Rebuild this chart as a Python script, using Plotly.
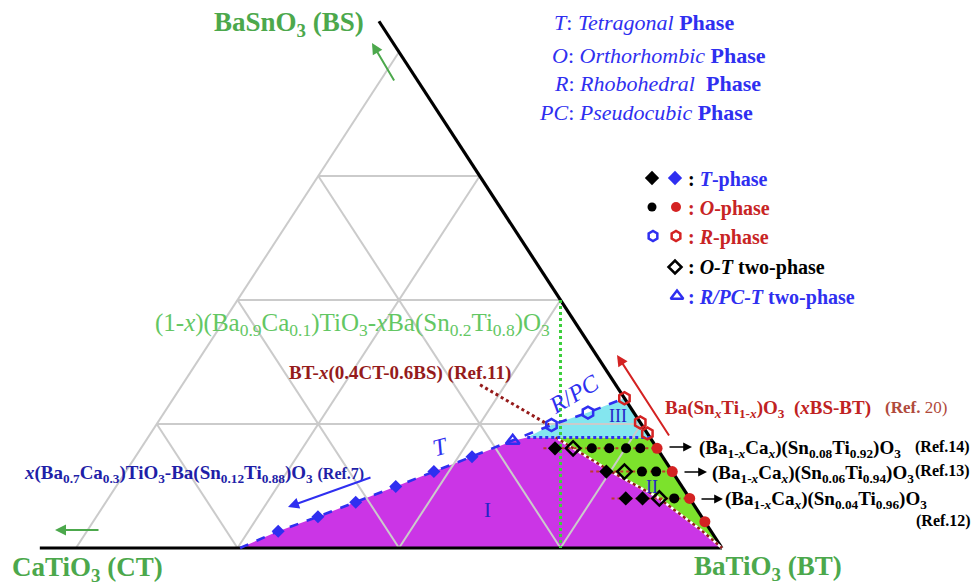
import plotly.graph_objects as go

# ---------------- data (mole fractions) ----------------
# every composition is given as (CaTiO3 fraction "ct", BaSnO3 fraction "bs"); BaTiO3 = 1 - ct - bs
grid_fractions = [0.25, 0.5, 0.75]

# T-phase boundary of x(Ba0.7Ca0.3)TiO3-Ba(Sn0.12Ti0.88)O3 (Ref.7)
T_foot_ct, T_foot_bs = 0.746, 0.0
T_blue_ct = [0.670, 0.594, 0.521, 0.443, 0.369, 0.295]
T_blue_bs = [0.034, 0.063, 0.092, 0.124, 0.154, 0.184]
RPCT_ct = [0.216]
RPCT_bs = [0.216]
R_blue_ct = [0.140, 0.071]
R_blue_bs = [0.248, 0.273]

# Ba(SnxTi1-x)O3 (Ref.20), on the BT-BS edge (ct = 0)
R_red_bs = [0.302, 0.253, 0.231]
O_red_bs = [0.201, 0.154, 0.100, 0.053]

# rows (Ba1-xCax)(SnyTi1-y)O3  (Ref.14, Ref.13, Ref.12)
row_bs = [0.201, 0.154, 0.100]
row_start_ct = [0.176, 0.127, 0.121]
row14_T_ct, row14_OT_ct, row14_O_ct = [0.158], [0.130], [0.101, 0.074, 0.048, 0.026]
row13_T_ct, row13_OT_ct, row13_O_ct = [0.102], [0.074], [0.047, 0.025]
row12_T_ct, row12_OT_ct, row12_O_ct = [0.099, 0.073], [0.047], [0.024]

# O-T phase boundary (region I / II)
OT_ct = [0.146, 0.094, 0.049, 0.015, 0.0]
OT_bs = [0.223, 0.153, 0.103, 0.038, 0.0]
# R/PC - T,O boundary (region III / II)
III_ct = [0.190, 0.0]
III_bs = [0.223, 0.223]
# BT-x(0.4CT-0.6BS) (Ref.11)
ref11_ct = [0.210, 0.144]
ref11_bs = [0.329, 0.248]
# (1-x)(Ba0.9Ca0.1)TiO3-xBa(Sn0.2Ti0.8)O3
bczt_ct = [0.0, 0.25]
bczt_bs = [0.5, 0.0]
# drawn edges (extended beyond the corners as in the figure)
bottom_edge_ct = [1.056, 0.0]
bottom_edge_bs = [0.0, 0.0]
right_edge_ct = [0.0, 0.0]
right_edge_bs = [0.0, 1.062]

# ---------------- page geometry ----------------
W, H = 971, 585
X0_PX, X1_PX = 76, 722        # CT and BT corners (pixels)
BASE_PX, APEX_PX = 548, 52    # base and apex heights (pixels)
SX, SY = X1_PX - X0_PX, BASE_PX - APEX_PX

MAGENTA = "#cb35e6"
LIME = "#7ce22c"
CYAN = "#84e6ef"
GRID = "#cbcbcb"
BLUE = "#2f2ff0"
DBLUE = "#1f1fa8"
RED = "#d42222"
DRED = "#951b1b"
GREEN = "#4ca84c"
LGREEN = "#63c763"
FONT = "Liberation Serif, Times New Roman, serif"


def xy(ct, bs):
    xs, ys = [], []
    for c, b in zip(ct, bs):
        if c is None:
            xs.append(None); ys.append(None)
        else:
            xs.append(1 - c - 0.5 * b); ys.append(b)
    return xs, ys


def P(px, py):
    return px / W, 1 - py / H


fig = go.Figure()


def line(ct, bs, color, width, dash="solid", **kw):
    x, y = xy(ct, bs)
    fig.add_trace(go.Scatter(x=x, y=y, mode="lines", hoverinfo="skip",
                             line=dict(color=color, width=width, dash=dash), **kw))


def poly(ct, bs, color):
    x, y = xy(ct, bs)
    fig.add_trace(go.Scatter(x=x, y=y, mode="lines", fill="toself", fillcolor=color,
                             line=dict(width=0), hoverinfo="skip"))


def marks(ct, bs, symbol, color, size, lw=0, lc=None):
    x, y = xy(ct, bs)
    fig.add_trace(go.Scatter(x=x, y=y, mode="markers", hoverinfo="skip",
                             marker=dict(symbol=symbol, color=color, size=size,
                                         line=dict(width=lw, color=lc or color))))


# ---- region fills ----
poly([T_foot_ct] + T_blue_ct + RPCT_ct + [III_ct[0]] + OT_ct,
     [T_foot_bs] + T_blue_bs + RPCT_bs + [III_bs[0]] + OT_bs, MAGENTA)
poly(OT_ct + [III_ct[1]], OT_bs + [III_bs[1]], LIME)
poly([III_ct[0]] + R_blue_ct + [0.0, III_ct[1]], [III_bs[0]] + R_blue_bs + [R_red_bs[0], III_bs[1]], CYAN)

# ---- grid ----
gct, gbs = [1.0, 0.0, None], [0.0, 1.0, None]
for k in grid_fractions:
    gct += [1 - k, 0.0, None, k, k, None, 1 - k, 0.0, None]
    gbs += [k, k, None, 0.0, 1 - k, None, 0.0, 1 - k, None]
line(gct, gbs, GRID, 2)

# ---- edges ----
line(bottom_edge_ct, bottom_edge_bs, "black", 3.2)
line(right_edge_ct, right_edge_bs, "black", 3.2)

# ---- boundaries ----
line(bczt_ct, bczt_bs, "#3ccf3c", 3, "dot")
line(ref11_ct, ref11_bs, DRED, 3, "dot")
line(OT_ct, OT_bs, "white", 2.5)
line(OT_ct, OT_bs, DRED, 2.5, "dot")
line([T_foot_ct] + T_blue_ct + RPCT_ct + R_blue_ct + [0.0],
     [T_foot_bs] + T_blue_bs + RPCT_bs + R_blue_bs + [R_red_bs[0]], BLUE, 2.6, "dash")
line(III_ct, III_bs, BLUE, 3, "dot")

# ---- composition rows ----
rct, rbs = [], []
for s, b in zip(row_start_ct, row_bs):
    rct += [s, 0.0, None]
    rbs += [b, b, None]
line(rct, rbs, "#c0392b", 2, "dot")

bT = row14_T_ct + row13_T_ct + row12_T_ct
bT_bs = [row_bs[0]] * len(row14_T_ct) + [row_bs[1]] * len(row13_T_ct) + [row_bs[2]] * len(row12_T_ct)
bO = row14_O_ct + row13_O_ct + row12_O_ct
bO_bs = [row_bs[0]] * len(row14_O_ct) + [row_bs[1]] * len(row13_O_ct) + [row_bs[2]] * len(row12_O_ct)
bOT = row14_OT_ct + row13_OT_ct + row12_OT_ct
bOT_bs = [row_bs[0]] * len(row14_OT_ct) + [row_bs[1]] * len(row13_OT_ct) + [row_bs[2]] * len(row12_OT_ct)

marks(T_blue_ct, T_blue_bs, "diamond", BLUE, 10)
marks(bT, bT_bs, "diamond", "black", 11)
marks(bO, bO_bs, "circle", "black", 10)
marks(bOT, bOT_bs, "diamond-open", "black", 11, 2.5)
marks([0.0] * len(O_red_bs), O_red_bs, "circle", RED, 11)
marks([0.0] * len(R_red_bs), R_red_bs, "hexagon-open", RED, 12, 2.5)
marks(R_blue_ct, R_blue_bs, "hexagon-open", BLUE, 12, 2.5)
marks(RPCT_ct, RPCT_bs, "triangle-up-open", BLUE, 12, 2.5)

# ---- symbol key (page fractions) ----
key_sym = ["diamond", "diamond", "circle", "circle", "hexagon-open", "hexagon-open", "diamond-open", "triangle-up-open"]
key_col = ["black", BLUE, "black", RED, BLUE, RED, "black", BLUE]
key_px = [652, 675, 652, 676, 653, 676, 675, 677]
key_py = [178, 178, 207, 207, 236, 236, 267, 296]
key_size = [11, 11, 9, 10, 10, 10, 10, 11]
for s, c, px, py, sz in zip(key_sym, key_col, key_px, key_py, key_size):
    kx, ky = P(px, py)
    fig.add_trace(go.Scatter(x=[kx], y=[ky], xaxis="x2", yaxis="y2", mode="markers", hoverinfo="skip",
                             marker=dict(symbol=s, color=c, size=sz,
                                         line=dict(width=2.5 if "open" in s else 0, color=c))))

# ---------------- text ----------------
ann = []


def text(t, px, py, size, color, xanchor="left", angle=0, yanchor="middle"):
    x, y = P(px, py)
    ann.append(dict(text=t, x=x, y=y, xref="paper", yref="paper", showarrow=False,
                    xanchor=xanchor, yanchor=yanchor, textangle=angle,
                    font=dict(family=FONT, size=size, color=color)))


def arrow(hx, hy, tx, ty, color, width=2):
    x, y = P(hx, hy)
    ann.append(dict(text="", x=x, y=y, xref="paper", yref="paper", showarrow=True,
                    ax=tx - hx, ay=ty - hy, arrowhead=2, arrowsize=1.1, arrowwidth=width,
                    arrowcolor=color))


text("<b>BaSnO<sub>3</sub> (BS)</b>", 212, 24, 27, GREEN)
text("<b>CaTiO<sub>3</sub> (CT)</b>", 10, 569, 27, GREEN)
text("<b>BaTiO<sub>3</sub> (BT)</b>", 692, 568, 27, GREEN)

text("<i>T</i>: <i>Tetragonal</i> <b>Phase</b>", 552, 23, 22, BLUE)
text("<i>O</i>: <i>Orthorhombic</i> <b>Phase</b>", 550, 56, 22, BLUE)
text("<i>R</i>: <i>Rhobohedral</i>\u00a0 <b>Phase</b>", 552, 84, 22, BLUE)
text("<i>PC</i>: <i>Pseudocubic</i> <b>Phase</b>", 537, 113, 22, BLUE)

text("<b><span style='color:black'>:</span> <i>T</i>-phase</b>", 686, 179, 20, BLUE)
text("<b>: <i>O</i>-phase</b>", 686, 208, 20, "#c82424")
text("<b>: <i>R</i>-phase</b>", 686, 237, 20, "#c82424")
text("<b>: <i>O-T</i> two-phase</b>", 686, 268, 20, "black")
text("<b>: <i>R/PC-T</i> two-phase</b>", 686, 297, 20, BLUE)

text("(1-<i>x</i>)(Ba<sub>0.9</sub>Ca<sub>0.1</sub>)TiO<sub>3</sub>-<i>x</i>Ba(Sn<sub>0.2</sub>Ti<sub>0.8</sub>)O<sub>3</sub>",
     153, 324, 25, LGREEN)
text("<b>BT-<i>x</i>(0.4CT-0.6BS) (Ref.11)</b>", 287, 373, 19, DRED)
text("<b><i>x</i>(Ba<sub>0.7</sub>Ca<sub>0.3</sub>)TiO<sub>3</sub>-Ba(Sn<sub>0.12</sub>Ti<sub>0.88</sub>)O<sub>3</sub> "
     "<span style='font-size:16px'>(Ref.7)</span></b>", 22, 474, 19, DBLUE)
text("<b>Ba(Sn<sub><i>x</i></sub>Ti<sub>1-<i>x</i></sub>)O<sub>3</sub>\u00a0 (<i>x</i>BS-BT)</b>", 663, 409, 19, "#c02222")
text("<b>(Ref.</b> 20)", 883, 407, 17, "#b04a3c")

text("<b>(Ba<sub>1-<i>x</i></sub>Ca<sub><i>x</i></sub>)(Sn<sub>0.08</sub>Ti<sub>0.92</sub>)O<sub>3</sub></b>", 697, 449, 19, "black")
text("<b>(Ref.14)</b>", 913, 447, 16, "black")
text("<b>(Ba<sub>1-<i>x</i></sub>Ca<sub><i>x</i></sub>)(Sn<sub>0.06</sub>Ti<sub>0.94</sub>)O<sub>3</sub></b>", 710, 474, 19, "black")
text("<b>(Ref.13)</b>", 913, 471, 16, "black")
text("<b>(Ba<sub>1-<i>x</i></sub>Ca<sub><i>x</i></sub>)(Sn<sub>0.04</sub>Ti<sub>0.96</sub>)O<sub>3</sub></b>", 723, 500, 19, "black")
text("<b>(Ref.12)</b>", 914, 521, 16, "black")

text("<i>R</i>/<i>PC</i>", 574, 394, 24, BLUE, "center", -31)
text("<i>T</i>", 440, 447, 24, BLUE, "center", -15)
text("III", 618, 416, 18, "#2525c8", "center")
text("II", 652, 487, 18, "#2525c8", "center")
text("I", 488, 510, 21, "#2525c8", "center")

arrow(617, 355, 670, 437, "#d42222", 2)
arrow(288, 507, 372, 477, BLUE, 2)
arrow(55, 530, 100, 530, GREEN, 2)
arrow(372, 43, 395, 82, GREEN, 2)
arrow(692, 447, 668, 447, "black", 1.6)
arrow(707, 472, 683, 472, "black", 1.6)
arrow(723, 499, 700, 499, "black", 1.6)

fig.update_layout(
    width=W, height=H, margin=dict(l=0, r=0, t=0, b=0),
    paper_bgcolor="white", plot_bgcolor="white", showlegend=False,
    xaxis=dict(range=[(0 - X0_PX) / SX, (W - X0_PX) / SX], visible=False, fixedrange=True),
    yaxis=dict(range=[(BASE_PX - H) / SY, BASE_PX / SY], visible=False, fixedrange=True),
    xaxis2=dict(range=[0, 1], overlaying="x", visible=False, fixedrange=True),
    yaxis2=dict(range=[0, 1], overlaying="y", visible=False, fixedrange=True),
    annotations=ann,
)
fig.write_html("out.html", config={"displayModeBar": False},
               post_script="document.body.style.margin='0px';document.body.style.overflow='hidden';")
